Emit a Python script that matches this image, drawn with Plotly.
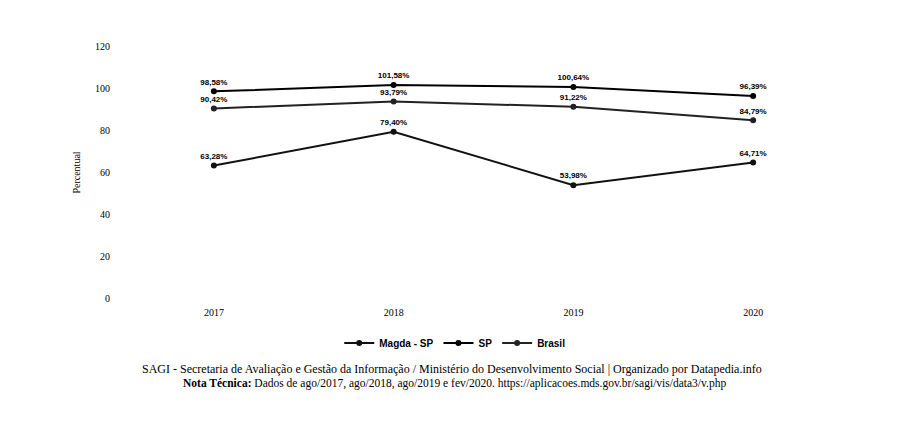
import plotly.graph_objects as go

years = [2017, 2018, 2019, 2020]
year_labels = ["2017", "2018", "2019", "2020"]
magda_sp = [63.28, 79.40, 53.98, 64.71]
sp = [98.58, 101.58, 100.64, 96.39]
brasil = [90.42, 93.79, 91.22, 84.79]

series = [("Magda - SP", magda_sp, "#111111"),
          ("SP", sp, "#000000"),
          ("Brasil", brasil, "#222222")]

def fmt(v):
    return f"{v:.2f}".replace(".", ",") + "%"

fig = go.Figure()
for name, vals, col in series:
    fig.add_trace(go.Scatter(
        x=years, y=vals, name=name, mode="lines+markers+text",
        line=dict(color=col, width=2),
        marker=dict(color=col, size=6),
        text=[fmt(v) for v in vals], textposition="top center",
        textfont=dict(family="Liberation Sans", size=8, color="#000000", weight="bold"),
        cliponaxis=False,
    ))

fig.update_layout(
    width=900, height=442,
    paper_bgcolor="white", plot_bgcolor="white",
    margin=dict(l=116, r=65, t=32, b=145),
    font=dict(family="Liberation Serif", color="#000000", size=10),
    xaxis=dict(range=[2016.5, 2020.5], tickmode="array", tickvals=years,
               ticktext=year_labels, showgrid=False, zeroline=False,
               showline=False, ticks="", tickfont=dict(size=10)),
    yaxis=dict(range=[-3, 123], tickvals=[0, 20, 40, 60, 80, 100, 120],
               showgrid=False, zeroline=False, showline=False, ticks="",
               ticklabelstandoff=13,
               title=dict(text="Percentual", font=dict(size=10), standoff=12),
               tickfont=dict(size=10)),
    legend=dict(orientation="h", x=0.46, xanchor="center", y=-0.143,
                yanchor="middle", font=dict(family="Liberation Sans", size=10,
                                            weight="bold"),
                itemwidth=30, tracegroupgap=0),
    showlegend=True,
)

fig.add_annotation(
    text="SAGI - Secretaria de Avaliação e Gestão da Informação / Ministério do Desenvolvimento Social | Organizado por Datapedia.info",
    xref="paper", yref="paper", x=0.456, y=-0.242, showarrow=False,
    xanchor="center", yanchor="middle", font=dict(size=12, family="Liberation Serif"))
fig.add_annotation(
    text="<b>Nota Técnica:</b> Dados de ago/2017, ago/2018, ago/2019 e fev/2020. https://aplicacoes.mds.gov.br/sagi/vis/data3/v.php",
    xref="paper", yref="paper", x=0.46, y=-0.298, showarrow=False,
    xanchor="center", yanchor="middle", font=dict(size=11.5, family="Liberation Serif"))

fig.write_html("out.html")
